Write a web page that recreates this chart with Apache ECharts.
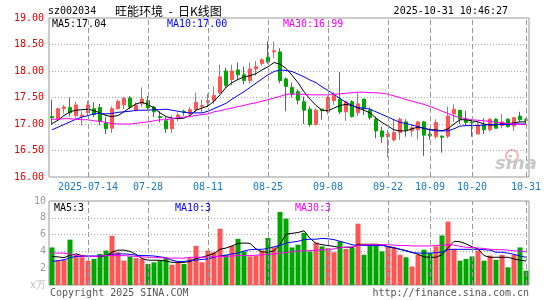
<!DOCTYPE html>
<html>
<head>
<meta charset="utf-8">
<script src="https://cdn.jsdelivr.net/npm/echarts@6/dist/echarts.min.js"></script>
<style>
html,body{margin:0;padding:0;background:#fff;}
#main{width:545px;height:300px;}
</style>
</head>
<body>
<div id="main"></div>
<script>
// trading days, 2025-07-04 .. 2025-10-31
var dates = ['07-04','07-07','07-08','07-09','07-10','07-11',
    '07-14','07-15','07-16','07-17','07-18','07-21','07-22','07-23','07-24','07-25',
    '07-28','07-29','07-30','07-31','08-01','08-04','08-05','08-06','08-07','08-08',
    '08-11','08-12','08-13','08-14','08-15','08-18','08-19','08-20','08-21','08-22',
    '08-25','08-26','08-27','08-28','08-29','09-01','09-02','09-03','09-04','09-05',
    '09-08','09-09','09-10','09-11','09-12','09-15','09-16','09-17','09-18','09-19',
    '09-22','09-23','09-24','09-25','09-26','09-29','09-30',
    '10-09','10-10','10-13','10-14','10-15','10-16','10-17',
    '10-20','10-21','10-22','10-23','10-24','10-27','10-28','10-29','10-30','10-31'];

// x tick labels
var tickDates = ['07-14','07-28','08-11','08-25','09-08','09-22','10-09','10-20','10-31'];
var tickText = ['2025-07-14','07-28','08-11','08-25','09-08','09-22','10-09','10-20','10-31'];

var opens = [17.14,17.09,17.29,17.31,17.16,17.14,17.21,17.29,17.31,17.02,
    16.92,17.29,17.36,17.49,17.25,17.38,17.44,17.32,17.14,17.06,
    16.91,17.13,17.24,17.19,17.27,17.33,17.41,17.44,17.59,18.00,
    17.84,18.02,17.93,17.82,18.04,18.14,18.26,18.36,18.36,17.85,
    17.69,17.61,17.42,17.28,16.99,17.28,17.23,17.44,17.47,17.23,
    17.42,17.21,17.47,17.26,17.09,16.87,16.76,16.70,16.84,17.04,
    16.87,16.89,17.04,16.81,16.76,16.77,16.77,17.19,17.26,17.09,
    17.03,16.81,16.98,16.89,17.09,16.97,17.09,16.96,17.15,17.08];
var closes = [17.12,17.29,17.32,17.21,17.36,17.17,17.36,17.18,17.05,16.91,
    17.29,17.43,17.48,17.32,17.36,17.47,17.31,17.23,17.12,16.91,
    17.08,17.17,17.22,17.27,17.41,17.35,17.44,17.54,17.89,17.73,
    18.00,17.93,17.82,18.04,18.08,18.21,18.17,18.38,17.82,17.71,
    17.56,17.45,17.26,16.99,17.26,17.25,17.50,17.54,17.23,17.42,
    17.14,17.38,17.29,17.12,16.87,16.76,16.81,16.84,17.09,16.89,
    16.93,17.04,16.79,16.78,17.03,16.75,17.15,17.28,17.09,17.03,
    17.02,16.98,16.89,17.09,16.92,17.04,16.95,17.12,17.08,17.07];
var lows = [16.98,17.07,17.20,17.14,17.11,16.97,17.16,17.13,16.98,16.81,
    16.83,17.27,17.28,17.28,17.24,17.32,17.27,17.13,17.03,16.83,
    16.83,17.05,17.16,17.16,17.22,17.22,17.32,17.38,17.57,17.68,
    17.73,17.84,17.75,17.77,17.91,18.10,18.14,18.24,17.77,17.24,
    17.50,17.37,17.00,16.95,16.97,17.08,17.18,17.36,17.19,17.06,
    17.12,17.15,17.17,17.08,16.73,16.64,16.37,16.67,16.70,16.76,
    16.76,16.71,16.40,16.70,16.72,16.46,16.73,17.04,17.00,16.98,
    16.76,16.81,16.81,16.86,16.92,16.92,16.93,16.87,17.04,17.01];
var highs = [17.46,17.30,17.36,17.50,17.42,17.24,17.44,17.41,17.38,17.13,
    17.33,17.46,17.51,17.53,17.41,17.69,17.53,17.34,17.24,17.13,
    17.16,17.22,17.27,17.32,17.59,17.46,17.57,17.71,18.12,18.06,
    18.12,18.16,18.08,18.16,18.19,18.24,18.56,18.56,18.43,17.88,
    17.78,17.65,17.52,17.33,17.30,17.28,17.53,17.60,17.98,17.44,
    17.45,17.60,17.47,17.31,17.14,16.95,16.89,17.08,17.12,17.09,
    16.98,17.06,17.06,16.92,17.09,16.79,17.33,17.37,17.26,17.25,
    17.08,17.04,17.11,17.11,17.11,17.19,17.11,17.12,17.23,17.11];

var ma5 = [17.01,17.07,17.16,17.23,17.26,17.27,17.28,17.25,17.21,17.16,
    17.14,17.16,17.23,17.31,17.38,17.41,17.37,17.30,17.21,17.14,
    17.11,17.10,17.11,17.16,17.26,17.30,17.34,17.43,17.55,17.69,
    17.78,17.84,17.89,17.91,17.95,18.02,18.08,18.16,18.13,18.05,
    17.92,17.78,17.61,17.47,17.35,17.26,17.25,17.30,17.35,17.37,
    17.35,17.30,17.26,17.21,17.11,17.03,16.96,16.89,16.87,16.87,
    16.91,16.94,16.92,16.89,16.89,16.87,16.91,17.00,17.08,17.08,
    17.06,17.04,17.00,16.98,16.98,17.01,17.01,17.02,17.04,17.04];
var ma10 = [16.89,16.94,16.99,17.04,17.09,17.13,17.16,17.19,17.20,17.19,
    17.20,17.22,17.23,17.24,17.26,17.26,17.26,17.27,17.27,17.28,
    17.26,17.24,17.22,17.21,17.21,17.21,17.24,17.29,17.34,17.39,
    17.47,17.54,17.61,17.69,17.77,17.85,17.93,17.99,18.02,18.01,
    17.99,17.94,17.89,17.83,17.78,17.70,17.63,17.56,17.48,17.41,
    17.35,17.31,17.30,17.28,17.23,17.18,17.13,17.08,17.03,17.01,
    16.98,16.95,16.92,16.89,16.87,16.87,16.87,16.91,16.96,16.97,
    16.97,16.97,16.98,16.99,16.99,16.99,16.99,17.00,17.00,17.00];
var ma30 = [17.09,17.09,17.10,17.10,17.09,17.08,17.08,17.06,17.05,17.03,
    17.01,17.00,17.00,17.00,17.01,17.03,17.04,17.06,17.08,17.08,
    17.10,17.12,17.13,17.14,17.16,17.18,17.19,17.23,17.25,17.28,
    17.30,17.33,17.35,17.38,17.40,17.43,17.46,17.49,17.52,17.56,
    17.57,17.56,17.56,17.55,17.55,17.55,17.55,17.56,17.57,17.58,
    17.59,17.60,17.60,17.59,17.59,17.58,17.56,17.53,17.50,17.46,
    17.43,17.40,17.37,17.33,17.29,17.24,17.20,17.15,17.12,17.10,
    17.08,17.07,17.06,17.05,17.03,17.02,17.01,17.00,16.99,16.99];

// volume, 万手
var vols = [4.47,2.9,3.0,5.4,3.5,3.3,2.9,3.1,3.7,4.1,
    5.85,3.9,2.9,3.4,3.2,3.1,2.5,2.7,2.9,3.2,
    2.4,2.7,2.5,3.2,4.66,2.7,4.1,3.9,6.7,3.6,
    4.66,5.5,4.0,3.4,3.5,4.1,5.6,4.5,8.7,7.9,
    4.47,4.8,6.2,4.0,5.06,4.6,4.4,3.9,5.2,4.3,
    4.47,7.3,3.6,4.8,4.8,4.0,4.6,4.47,3.6,3.3,
    2.2,3.6,4.2,3.8,4.6,5.9,7.55,4.3,2.9,3.1,
    3.4,4.1,2.9,3.5,3.0,3.6,2.1,3.6,4.47,1.7];
var vma5 = [3.4,3.35,3.25,3.55,3.7,3.5,3.4,3.4,3.4,3.5,
    3.9,4.15,4.15,4.0,3.65,3.15,2.95,2.95,2.95,2.85,
    2.7,2.7,2.7,2.8,3.15,3.3,3.5,3.75,4.25,4.4,
    4.65,4.95,5.0,4.95,4.3,3.95,3.9,4.05,4.85,6.05,
    6.15,6.25,6.45,5.55,4.95,4.8,4.7,4.6,4.45,4.5,
    4.45,4.85,4.85,4.85,4.85,4.8,4.55,4.4,4.25,4.1,
    3.9,3.65,3.35,3.3,3.3,3.6,4.45,5.2,5.15,4.9,
    4.55,4.3,3.5,3.3,3.3,3.3,3.3,3.1,2.95,2.85];
var vma10 = [2.8,2.9,3.0,3.25,3.4,3.4,3.45,3.45,3.45,3.5,
    3.65,3.7,3.7,3.65,3.55,3.5,3.5,3.45,3.35,3.25,
    2.95,2.8,2.8,2.9,2.95,3.05,3.1,3.3,3.45,3.55,
    3.7,3.8,4.05,4.2,4.25,4.25,4.35,4.55,4.7,5.0,
    5.1,5.2,5.4,5.45,5.45,5.55,5.5,5.4,5.2,5.0,
    4.8,4.7,4.7,4.7,4.7,4.7,4.6,4.45,4.25,4.05,
    3.85,3.8,3.8,3.8,3.85,3.9,4.2,4.25,4.25,4.25,
    4.25,4.25,4.2,4.15,3.9,3.9,3.8,3.65,3.45,3.3];
var vma30 = [3.8,3.8,3.8,3.7,3.5,3.45,3.4,3.4,3.45,3.5,
    3.5,3.5,3.5,3.45,3.4,3.35,3.3,3.3,3.25,3.2,
    3.2,3.2,3.2,3.3,3.3,3.3,3.35,3.4,3.4,3.4,
    3.45,3.5,3.5,3.5,3.55,3.6,3.65,3.7,3.8,3.85,
    4.0,4.05,4.05,4.1,4.15,4.2,4.2,4.3,4.45,4.5,
    4.55,4.7,4.8,4.8,4.8,4.8,4.8,4.75,4.7,4.7,
    4.65,4.65,4.65,4.65,4.7,4.75,4.8,4.75,4.6,4.5,
    4.45,4.4,4.35,4.25,4.2,4.2,4.15,4.05,4.05,3.95];

var UP = '#ff5555', DOWN = '#00a600';
var mono = 'DejaVu Sans Mono';

var candles = [], volBars = [];
for (var i = 0; i < dates.length; i++) {
    candles.push([opens[i], closes[i], lows[i], highs[i]]);
    volBars.push({value: vols[i], itemStyle: {color: closes[i] >= opens[i] ? UP : DOWN}});
}

var chart = echarts.init(document.getElementById('main'));

function txt(x, y, s, color, align, font) {
    return {
        type: 'text', silent: true, z: 100,
        style: {
            x: x, y: y, text: s, fill: color,
            font: font || ('10px ' + mono),
            textAlign: align || 'left', align: align || 'left',
            textVerticalAlign: 'middle', verticalAlign: 'middle'
        }
    };
}

function maLine(name, data, color, xi) {
    return {
        name: name, type: 'line', xAxisIndex: xi, yAxisIndex: xi,
        data: data, symbol: 'none', smooth: false, z: 4,
        lineStyle: {color: color, width: 1}
    };
}

var vLines = {
    silent: true, symbol: ['none', 'none'], animation: false,
    label: {show: false},
    lineStyle: {color: '#999', type: [5, 3], width: 1},
    data: tickDates.map(function (d) { return {xAxis: d}; })
};

var option = {
    animation: false,
    backgroundColor: '#fff',
    grid: [
        {left: 49, top: 18, width: 480, height: 159, show: true, borderColor: '#999', borderWidth: 1},
        {left: 49, top: 201, width: 480, height: 84, show: true, borderColor: '#999', borderWidth: 1}
    ],
    xAxis: [
        {
            type: 'category', gridIndex: 0, data: dates, boundaryGap: true,
            axisLine: {show: false}, axisTick: {show: false}, splitLine: {show: false},
            axisLabel: {
                color: '#1a79c6', fontFamily: mono, fontSize: 10, margin: 5,
                interval: function (idx, val) { return tickDates.indexOf(val) >= 0; },
                formatter: function (val) { return tickText[tickDates.indexOf(val)]; }
            }
        },
        {
            type: 'category', gridIndex: 1, data: dates, boundaryGap: true,
            axisLine: {show: false}, axisTick: {show: false}, splitLine: {show: false},
            axisLabel: {show: false}
        }
    ],
    yAxis: [
        {
            type: 'value', gridIndex: 0, min: 16, max: 19, interval: 0.5,
            axisLine: {show: false}, axisTick: {show: false},
            axisLabel: {
                color: '#e80000', fontFamily: mono, fontSize: 10, margin: 5,
                formatter: function (v) { return v.toFixed(2); }
            },
            splitLine: {showMinLine: false, showMaxLine: false, lineStyle: {color: '#aaa', type: [1, 2]}}
        },
        {
            type: 'value', gridIndex: 1, min: 0, max: 10, interval: 2,
            axisLine: {show: false}, axisTick: {show: false},
            axisLabel: {
                color: '#999', fontFamily: mono, fontSize: 10, margin: 3,
                formatter: function (v) { return v === 0 ? '{u|x万}' : v; },
                rich: {u: {color: '#bbb', fontFamily: mono, fontSize: 10}}
            },
            splitLine: {showMinLine: false, showMaxLine: false, lineStyle: {color: '#aaa', type: [1, 2]}}
        }
    ],
    series: [
        {type: 'line', xAxisIndex: 0, yAxisIndex: 0, data: [], z: 1, markLine: vLines},
        {type: 'line', xAxisIndex: 1, yAxisIndex: 1, data: [], z: 1, markLine: vLines},
        {
            name: 'K', type: 'candlestick', xAxisIndex: 0, yAxisIndex: 0, data: candles,
            barWidth: 4, z: 3,
            itemStyle: {color: UP, color0: DOWN, borderColor: UP, borderColor0: DOWN, borderWidth: 1}
        },
        maLine('MA5', ma5, '#000000', 0),
        maLine('MA10', ma10, '#0000ff', 0),
        maLine('MA30', ma30, '#ff00ff', 0),
        {name: 'VOL', type: 'bar', xAxisIndex: 1, yAxisIndex: 1, data: volBars, barWidth: 5, z: 3},
        maLine('VMA5', vma5, '#000000', 1),
        maLine('VMA10', vma10, '#0000ff', 1),
        maLine('VMA30', vma30, '#ff00ff', 1)
    ],
    graphic: [
        txt(48, 11, 'sz002034', '#000'),
        txt(115, 11, '旺能环境  -  日K线图', '#000', 'left', '12px "Noto Sans CJK SC"'),
        txt(508, 11, '2025-10-31 10:46:27', '#000', 'right'),
        txt(52, 24, 'MA5:17.04', '#000'),
        txt(167, 24, 'MA10:17.00', '#0000ff'),
        txt(283, 24, 'MA30:16.99', '#ff00ff'),
        txt(54, 208, 'MA5:3', '#000'),
        txt(175, 208, 'MA10:3', '#0000ff'),
        txt(295, 208, 'MA30:3', '#ff00ff'),
        txt(50, 293, 'Copyright 2025 SINA.COM', '#555'),
        txt(529, 293, 'http://finance.sina.com.cn', '#555', 'right'),
        {
            type: 'circle', silent: true, z: 0,
            shape: {cx: 512, cy: 156, r: 6},
            style: {fill: 'none', stroke: '#f3b5b5', lineWidth: 2}
        },
        txt(495, 164, 'sina', '#c8c8c8', 'left', 'italic bold 18px "DejaVu Sans"')
    ]
};

chart.setOption(option);
</script>
</body>
</html>
